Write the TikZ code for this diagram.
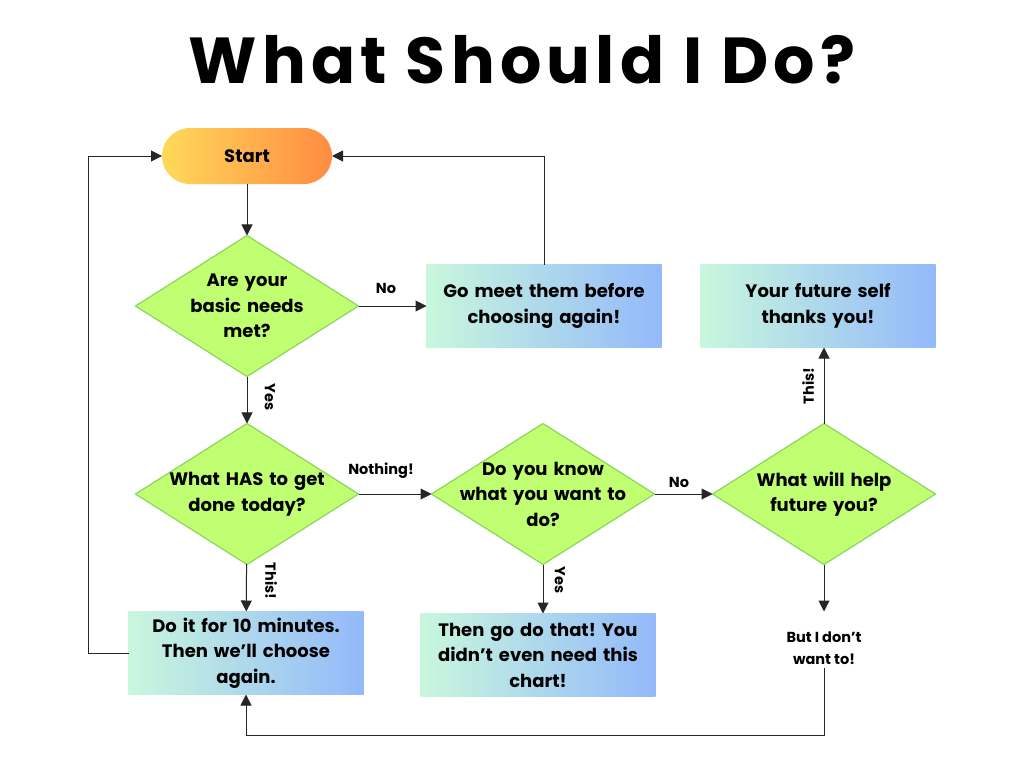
\documentclass[tikz,border=0pt]{standalone}
\usepackage{fontspec}
\setmainfont{Poppins}
\newfontfamily\titlefont[LetterSpace=8]{Poppins}
\usetikzlibrary{shapes.geometric,arrows.meta}
\definecolor{startL}{HTML}{FFD95A}
\definecolor{startR}{HTML}{FF8C42}
\definecolor{boxL}{HTML}{C9F7DD}
\definecolor{boxR}{HTML}{93B9FA}
\definecolor{qfill}{HTML}{C1FF72}
\definecolor{qline}{HTML}{8BD65A}
\frenchspacing

\begin{document}
\begin{tikzpicture}[x=1pt,y=-1pt,
  every node/.style={font=\bfseries\fontsize{18}{25.5}\selectfont,outer sep=0pt},
  startbox/.style={rectangle,rounded corners=28pt,minimum width=170pt,minimum height=56pt,left color=startL,right color=startR},
  qbox/.style={diamond,fill=qfill,draw=qline,line width=1.2pt,minimum width=223pt,minimum height=141pt,aspect=1.58,inner sep=-15pt,text width=170pt,align=center},
  abox/.style={rectangle,minimum width=235pt,minimum height=83pt,text width=225pt,align=center,left color=boxL,right color=boxR},
  lbl/.style={font=\bfseries\fontsize{14.5}{22}\selectfont},
  arw/.style={draw=black!85,line width=1pt,-{Triangle[length=11pt,width=11pt]}}]
\useasboundingbox (0,0) rectangle (1024,768);
% title
\node (title) at (522,60) {\titlefont\bfseries\fontsize{65}{70}\selectfont What Should I Do?};
% boxes
\node[startbox] (start) at (247,156) {Start};
\node[qbox] (needs) at (247,306) {Are your\\ basic needs\\ met?};
\node[abox] (meet) at (544,306) {Go meet them before\\ choosing again!};
\node[qbox] (today) at (247,494) {What HAS to get\\ done today?};
\node[qbox] (know) at (543,494) {Do you know\\ what you want to\\ do?};
\node[qbox] (future) at (824,494) {What will help\\ future you?};
\node[abox] (thanks) at (818,306) {Your future self\\ thanks you!};
\node[abox] (tenmin) at (246,653) {Do it for 10 minutes.\\ Then we’ll choose\\ again.};
\node[abox] (godo) at (538,655) {Then go do that! You\\ didn’t even need this\\ chart!};
\node[lbl,align=center] (wont) at (824,648) {But I don’t\\ want to!};
\coordinate (loop) at (824,735);
% labels
\node[lbl] (lno1) at (386,288) {No};
\node[lbl,rotate=-90] (lyes1) at (270,397) {Yes};
\node[lbl] (lnothing) at (381,471) {Nothing!};
\node[lbl] (lno2) at (679,482) {No};
\node[lbl,rotate=-90] (lthis1) at (271,581) {This!};
\node[lbl,rotate=-90] (lyes2) at (560,580) {Yes};
\node[lbl,rotate=90] (lthis2) at (808,386) {This!};
% arrows
\draw[arw] (start) -- (needs);
\draw[arw] (needs) -- (meet);
\draw[arw] (needs) -- (today);
\draw[arw] (meet.north) |- (start.east);
\draw[arw] (today) -- (know);
\draw[arw] (know) -- (future);
\draw[arw] (today) -- (tenmin);
\draw[arw] (know.south) -- (know.south |- godo.north);
\draw[arw] (future.north) -- (future.north |- thanks.south);
\draw[arw] (future.south) -- ++(0,47);
\draw[arw] (tenmin.west) -- ++(-40,0) |- (start.west);
\draw[arw] (wont.south) -- (loop) -| (tenmin.south);
\end{tikzpicture}
\end{document}
